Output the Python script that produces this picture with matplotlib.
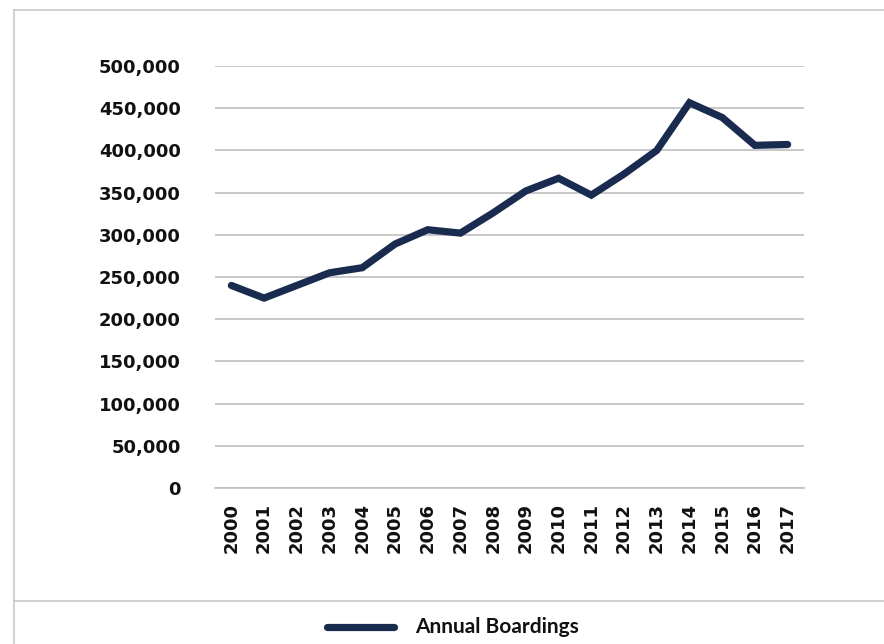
import matplotlib
matplotlib.use("Agg")
import matplotlib.pyplot as plt
from matplotlib.lines import Line2D
from matplotlib.ticker import FuncFormatter, MultipleLocator

years = ["2000", "2001", "2002", "2003", "2004", "2005", "2006", "2007", "2008",
         "2009", "2010", "2011", "2012", "2013", "2014", "2015", "2016", "2017"]
boardings = [240000, 225000, 240000, 255000, 261000, 289000, 306000, 302000, 326000,
             352000, 367000, 347000, 372000, 400000, 456500, 439000, 406000, 407000]
series_name = "Annual Boardings"

navy = "#1a2b50"
W, H = 884, 644
fig = plt.figure(figsize=(W / 100, H / 100), dpi=100)

ax = fig.add_axes([215 / W, 1 - 488 / H, (804 - 215) / W, (488 - 66) / H])
x = list(range(len(years)))
ax.plot(x, boardings, color=navy, lw=5.2, solid_capstyle="round", solid_joinstyle="miter", zorder=3)
ax.set_xlim(-0.5, len(years) - 0.5)
ax.set_ylim(0, 500000)
ax.yaxis.set_major_locator(MultipleLocator(50000))
ax.yaxis.set_major_formatter(FuncFormatter(lambda v, p: f"{int(v):,}"))
ax.set_xticks(x)
ax.set_xticklabels(years, rotation=90)
ax.grid(axis="y", color="#bfbfbf", lw=1.2)
ax.set_axisbelow(True)
for s in ["top", "right", "left"]:
    ax.spines[s].set_visible(False)
ax.spines["bottom"].set_color("#bfbfbf")
ax.spines["bottom"].set_linewidth(1.2)
ax.tick_params(axis="y", length=0, pad=24.5)
ax.tick_params(axis="x", length=0, pad=10.5)
for lab in ax.get_yticklabels() + ax.get_xticklabels():
    lab.set_fontfamily("DejaVu Sans")
    lab.set_fontweight("bold")
    lab.set_fontsize(13)
    lab.set_color("#111111")

# frame lines
border = "#c8c8c8"
fig.add_artist(Line2D([14 / W, 14 / W], [0, 1 - 10 / H], transform=fig.transFigure, color=border, lw=1.2))
fig.add_artist(Line2D([14 / W, 1], [1 - 10 / H, 1 - 10 / H], transform=fig.transFigure, color=border, lw=1.2))
fig.add_artist(Line2D([14 / W, 1], [1 - 601 / H, 1 - 601 / H], transform=fig.transFigure, color=border, lw=1.2))

# legend
fig.add_artist(Line2D([327 / W, 394 / W], [1 - 626.5 / H, 1 - 626.5 / H], transform=fig.transFigure,
                      color=navy, lw=5.2, solid_capstyle="round"))
fig.text(415 / W, 1 - 627 / H, series_name, fontfamily="Lato", fontweight="bold", fontsize=15,
         va="center", ha="left", color="#111111")

fig.savefig("out.png", dpi=100)
